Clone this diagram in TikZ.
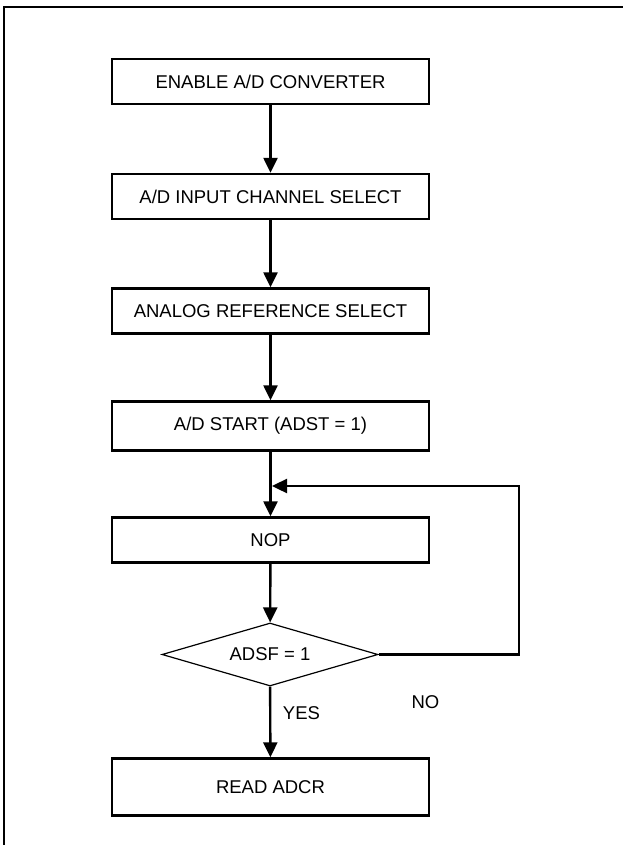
\documentclass[tikz,border=0pt]{standalone}
\usepackage{fontspec}
\setmainfont{Liberation Sans}
\usepackage{tikz}
\usetikzlibrary{arrows.meta, shapes.geometric}

\tikzset{
  stepbox/.style={draw, line width=2.4pt, minimum width=317pt, minimum height=45pt,
    inner sep=0pt, font=\fontsize{18.5}{21}\selectfont},
  testbox/.style={draw, line width=1.2pt, diamond, aspect=3.43, minimum width=216pt,
    minimum height=63pt, inner sep=0pt, font=\fontsize{18.5}{21}\selectfont},
  flow/.style={line width=2.4pt, -{Triangle[width=14pt, length=15pt]}},
  tag/.style={font=\fontsize{18.5}{21}\selectfont}
}

\begin{document}
\begin{tikzpicture}[x=1pt, y=-1pt]
  \useasboundingbox (0,0) rectangle (623,845);

  % Frame (cut at right and bottom)
  \draw[line width=2.4pt] (4,845) -- (4,7) -- (623,7);

  % Steps
  \node[stepbox] (enable) at (270.5,81.5) {ENABLE A/D CONVERTER};
  \node[stepbox] (chan) at (270.5,196.5) {A/D INPUT CHANNEL SELECT};
  \node[stepbox] (ref) at (270.5,311) {ANALOG REFERENCE SELECT};
  \node[stepbox, minimum height=49pt] (start) at (270.5,426) {A/D START (ADST = 1)};
  \node[stepbox] (nop) at (270.5,540) {NOP};
  \node[testbox] (done) at (270,654.5) {ADSF = 1};
  \node[stepbox, minimum height=57pt] (read) at (270.5,787) {READ ADCR};

  % Flow
  \draw[flow] (enable) -- (chan);
  \draw[flow] (chan) -- (ref);
  \draw[flow] (ref) -- (start);
  \draw[flow] (start) -- (nop);
  \draw[flow] (nop) -- (done);
  \draw[flow] (done) -- (read);

  % Loop back while busy
  \coordinate (corner) at (519,486);
  \coordinate (back) at (272,486);
  \draw[flow] (done.east) -| (corner) -- (back);

  \node[tag] (no) at (425.5,702) {NO};
  \node[tag] (yes) at (301.5,713) {YES};
\end{tikzpicture}
\end{document}
